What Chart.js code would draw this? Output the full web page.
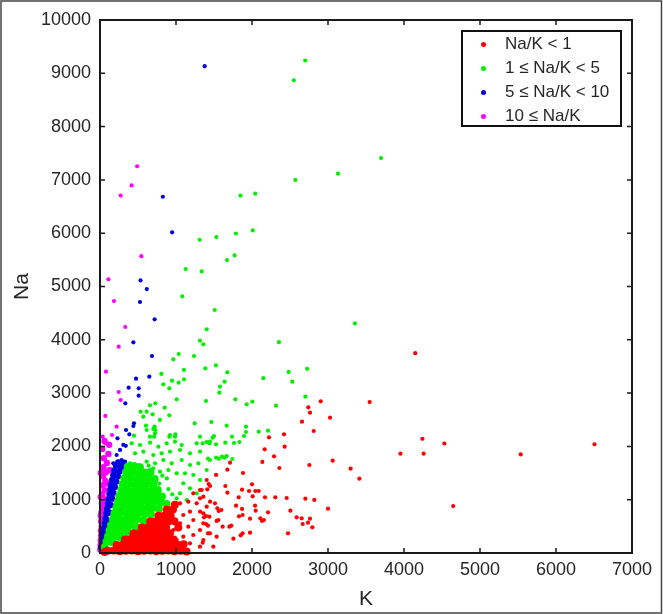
<!DOCTYPE html>
<html>
<head>
<meta charset="utf-8">
<script src="https://cdn.jsdelivr.net/npm/chart.js@4.4.1/dist/chart.umd.min.js"></script>
<style>
  html, body { margin: 0; padding: 0; background: #fff; }
  #wrap { position: relative; width: 663px; height: 614px; }
  #legend {
    position: absolute; left: 461px; top: 30px; width: 157px; height: 93px;
    border: 2px solid #111; background: #fff;
    font-family: "Liberation Sans", Arial, sans-serif; font-size: 17px; color: #262626;
  }
  .row { position: absolute; left: 0; height: 24px; line-height: 24px; white-space: nowrap; }
  .dot { position: absolute; left: 18px; top: 10px; width: 5px; height: 5px; border-radius: 50%; }
  .lbl { position: absolute; left: 42px; }
</style>
</head>
<body>
<div id="wrap">
  <canvas id="chart"></canvas>
  <div id="legend"></div>
</div>
<script>
// series labels and colours
const labels = ["Na/K < 1", "1 \u2264 Na/K < 5", "5 \u2264 Na/K < 10", "10 \u2264 Na/K"];
const colors = ["rgb(255,0,0)", "rgb(0,240,0)", "rgb(0,0,225)", "rgb(255,0,255)"];

// axis ticks
const xTicks = [0, 1000, 2000, 3000, 4000, 5000, 6000, 7000];
const yTicks = [0, 1000, 2000, 3000, 4000, 5000, 6000, 7000, 8000, 9000, 10000];

// [K, Na] pairs. "core" = the packed cluster near the origin
const redCore = [
  [60,20],[100,40],[180,45],[260,35],[340,40],[420,45],[500,35],[580,40],[660,45],[740,35],[820,40],[900,45],[980,35],[1060,40],[1140,30],
  [220,150],[300,155],[380,145],[460,150],[540,155],[620,145],[700,150],[780,155],[860,145],[940,150],[1020,155],[1100,165],
  [330,260],[410,265],[490,255],[570,260],[650,265],[730,255],[810,260],[890,265],[970,255],
  [440,370],[520,375],[600,365],[680,370],[760,375],[840,365],[920,370],
  [550,480],[630,485],[710,475],[790,480],[870,485],[1030,480],
  [660,590],[740,595],[820,585],[900,590],[980,595],
  [770,700],[850,705],[930,695],
  [880,810],[960,815],[985,905]
];
const redPts = [
  [4148,3749],[3548,2832],[4242,2142],[4531,2054],[6507,2040],[3953,1864],[4259,1864],[5536,1849],[4647,880],
  [2741,2733],[2763,2633],[2904,2846],[3027,2539],[2658,2464],[2812,2289],[2421,2227],[2224,2170],[2430,1995],
  [2167,1945],[2290,1814],[2136,1708],[2360,1595],[2755,1651],[3062,1733],[3298,1582],[3413,1395],
  [1711,1695],[1676,1564],[1527,1464],[1882,1501],[1404,1370],[1430,1295],[1448,1257],[1412,1195],[1649,1257],
  [1676,1132],[2000,1288],[1961,1163],[2044,1163],[2088,1163],[1869,1188],[2009,1063],[2171,1045],[2307,1045],
  [2456,1032],[2702,1020],[2820,995],[1825,1045],[1316,1026],[1338,1182],[1448,963],[1790,888],[1869,826],
  [2040,888],[2048,794],[2211,763],[2505,794],[2588,669],[2654,651],[2763,644],[3000,832],[1544,838],[1562,788],
  [1597,807],[1360,744],[1369,669],[1395,694],[1439,682],[1535,601],[1877,713],[1829,688],[1974,644],[2110,651],
  [2132,601],[2158,619],[2667,544],[2737,569],[2794,482],[1395,544],[1421,513],[1614,494],[1702,494],[1728,513],
  [1877,369],[1851,332],[1974,382],[2474,369],[1755,269],[1421,369],[1351,194],
  [1316,1182],[1360,1057],[1228,1119],[1162,963],[1053,932],[1272,932],[1404,869],[1513,932],[1316,775],
  [1184,775],[1096,713],[1557,619],[1228,619],[1360,556],[1053,556],[1162,494],[1316,431],[1447,369],
  [1535,306],[1228,338],[1096,306],[1360,244],[1009,244],[1184,181],[1316,119],[1491,119],[965,431],[899,619]
];

const greenCore = [
  [62,110],[85,210],[160,205],[105,310],[185,305],[265,295],
  [125,420],[205,415],[285,410],[365,395],
  [145,520],[225,525],[305,515],[385,520],[465,500],
  [170,630],[250,640],[330,620],[410,630],[490,640],[570,610],
  [190,740],[270,750],[350,730],[430,740],[510,750],[590,730],[670,720],
  [215,850],[295,860],[375,840],[455,850],[535,860],[615,840],[695,850],[775,825],
  [235,960],[315,970],[395,950],[475,960],[555,970],[635,950],[715,960],[795,950],[875,920],
  [255,1070],[335,1080],[415,1060],[495,1070],[575,1080],[655,1060],[735,1070],[815,1060],
  [280,1180],[360,1190],[440,1170],[520,1180],[600,1190],[680,1170],[760,1180],
  [300,1290],[380,1300],[460,1280],[540,1290],[620,1300],[700,1280],
  [320,1400],[400,1410],[480,1390],[560,1400],[640,1410],[720,1390],
  [345,1510],[425,1520],[505,1500],[585,1510],[665,1520],
  [365,1620],[445,1630],[525,1610]
];
const greenPts = [
  [2700,9240],[2550,8870],[3698,7410],[3132,7117],[2571,7000],[1849,6706],[2043,6742],[2010,6053],[1788,5994],
  [1310,5877],[1532,5928],[1771,5583],[1671,5495],[1127,5327],[1338,5282],[1083,4813],[3354,4307],[2354,3955],
  [2726,3456],[2482,3397],[2149,3280],[2530,3215],
  [1509,4559],[1404,4197],[1316,3984],[1360,3915],[1035,3734],[965,3634],[1237,3696],[1105,3434],[1386,3465],
  [1526,3521],[1675,3390],[807,3359],[947,3234],[1035,3196],[1105,3259],[833,3165],[912,3090],[1640,3215],
  [1579,3121],[1570,3008],[1009,2883],[1395,2852],[728,2808],[658,2771],[851,2727],[535,2652],[614,2652],
  [693,2602],[570,2558],[912,2583],[789,2496],[719,2370],[605,2389],[614,2308],[702,2327],[728,2308],
  [1246,2433],[1465,2458],[1667,2389],[1921,2370],[447,2202],[711,2183],[912,2183],[991,2227],[1500,2195],
  [1482,2164],[1895,2195],
  [1781,2883],[1930,2789],[2005,2839],[2316,2764],[2702,2933],[1921,2270],[2088,2277],[2211,2295],[1737,2183],
  [1834,2083],[1763,2064],[1404,2083],[1439,2058],[1527,2039],[1649,2070],[1351,2058],[1421,1770],[1527,1789],
  [1562,1770],[1605,1808],[1640,1789],[1667,1820],[1741,1764],
  [658,2183],[724,2245],[921,2214],[987,2183],[1316,2183],
  [417,2057],[526,2026],[658,2070],[768,1995],[877,2057],[987,2089],[1075,2026],[1272,2057],[1447,2089],
  [461,1870],[570,1901],[702,1839],[811,1870],[921,1901],[1053,1932],[1184,1870],[1316,1901],[1447,1745],
  [395,1682],[504,1651],[614,1713],[724,1682],[833,1745],[943,1682],[1075,1745],[1184,1651],[1294,1682],
  [1404,1557],[439,1526],[548,1495],[658,1557],[789,1526],[899,1557],[1009,1495],[1118,1495],[1228,1463],
  [1316,1370],[1096,1307],[1184,1213],[1272,1119],[1053,1119],[1140,994],[1009,1026],
  [900,1200],[950,1100],[880,1400],[820,1450],[780,1300],[640,1640],[700,1590]
];

const blueCore = [
  [15,110],[25,200],[35,290],[45,380],[55,470],[65,560],[75,650],[85,740],[95,830],[105,920],[115,1010],
  [125,1100],[135,1190],[145,1280],[160,1370],[175,1460],[190,1550],[210,1640],[240,1700],
  [80,480],[100,600],[120,760],[140,900],[160,1020],[175,1130],[195,1240],[215,1340],[235,1440],[255,1530],
  [275,1610],[300,1690]
];
const bluePts = [
  [1377,9134],[827,6684],[949,6016],[533,5114],[616,4952],[526,4709],[719,4384],[439,3953],[684,3696],
  [474,3271],[649,3309],[377,3102],[509,3090],[509,2952],[333,2808],[447,2433],[439,2383],[342,2308],
  [386,2227],[339,2010],[230,2152],[307,2027],[263,1933],[219,1839],[285,1745],[329,1714],[175,1683]
];

const magentaCore = [
  [5,60],[8,150],[10,240],[15,330],[12,420],[22,500],[15,590],[30,670],[20,760],[40,840],[25,930],[50,1010],
  [30,1100],[60,1180],[35,1270],[70,1350],[40,1440],[80,1520],[45,1610],[90,1690],[50,1780],[110,1860],
  [30,1950],[120,2030],[60,2100],[10,1500],[10,1050],[10,700],[60,700],[85,1000],[110,1300],[130,1560]
];
const magentaPts = [
  [489,7256],[416,6897],[272,6706],[544,5569],[111,5136],[184,4728],[333,4240],[246,3871],[79,3402],
  [246,3021],[272,2871],[70,2571],[219,2370],[158,2214],[35,2183],[66,2058],[123,1839],[22,1933]
];

function toXY(arr) {
  return arr.map(p => ({ x: p[0], y: p[1] }));
}

function series(i, core, loose, coreR) {
  return {
    label: labels[i],
    data: toXY(core.concat(loose)),
    backgroundColor: colors[i],
    borderWidth: 0,
    clip: false,
    pointRadius: c => (c.dataIndex < core.length ? coreR : 2.1)
  };
}

// inward ticks on all four sides plus the box, matlab style
const frame = {
  id: "frame",
  afterDraw(chart) {
    const { ctx, chartArea: a, scales } = chart;
    ctx.save();
    ctx.strokeStyle = "#1a1a1a";
    ctx.lineWidth = 1.5;
    ctx.beginPath();
    xTicks.forEach(v => {
      const p = scales.x.getPixelForValue(v);
      ctx.moveTo(p, a.bottom); ctx.lineTo(p, a.bottom - 5);
      ctx.moveTo(p, a.top); ctx.lineTo(p, a.top + 5);
    });
    yTicks.forEach(v => {
      const p = scales.y.getPixelForValue(v);
      ctx.moveTo(a.left, p); ctx.lineTo(a.left + 5, p);
      ctx.moveTo(a.right, p); ctx.lineTo(a.right - 5, p);
    });
    ctx.stroke();
    ctx.lineWidth = 2;
    ctx.strokeRect(a.left, a.top, a.right - a.left, a.bottom - a.top);
    ctx.lineWidth = 1.5;
    ctx.strokeStyle = "#444";
    ctx.strokeRect(1, 1, chart.width - 2.5, chart.height - 2);
    ctx.restore();
  }
};

Chart.defaults.font.family = "'Liberation Sans', Arial, sans-serif";
Chart.defaults.color = "#262626";

const chart = new Chart(document.getElementById("chart"), {
  type: "scatter",
  data: {
    datasets: [
      series(0, redCore, redPts, 4),
      series(1, greenCore, greenPts, 4),
      series(2, blueCore, bluePts, 3.2),
      series(3, magentaCore, magentaPts, 3.2)
    ]
  },
  options: {
    responsive: true,
    maintainAspectRatio: false,
    animation: false,
    events: [],
    layout: { padding: { top: 20, right: 31, left: 0, bottom: 0 } },
    plugins: { legend: { display: false }, tooltip: { enabled: false } },
    scales: {
      x: {
        min: 0, max: 7000,
        afterBuildTicks: s => { s.ticks = xTicks.map(v => ({ value: v })); },
        afterFit: s => { s.height = 61; },
        ticks: { font: { size: 18 }, padding: 6, maxRotation: 0, autoSkip: false, callback: v => String(v) },
        grid: { display: false, drawTicks: false },
        border: { display: false },
        title: { display: true, text: "K", font: { size: 21 }, padding: { top: 0, bottom: 2 } }
      },
      y: {
        min: 0, max: 10000,
        afterBuildTicks: s => { s.ticks = yTicks.map(v => ({ value: v })); },
        afterFit: s => { s.width = 100; },
        ticks: { font: { size: 18 }, padding: 9, autoSkip: false, callback: v => String(v) },
        grid: { display: false, drawTicks: false },
        border: { display: false },
        title: { display: true, text: "Na", font: { size: 21 }, padding: { top: 10, bottom: 0 } }
      }
    }
  },
  plugins: [frame]
});

// legend box built from the datasets
const legend = document.getElementById("legend");
chart.data.datasets.forEach((ds, i) => {
  const row = document.createElement("div");
  row.className = "row";
  row.style.top = (i * 24) + "px";
  row.innerHTML = `<span class="dot" style="background:${ds.backgroundColor}"></span><span class="lbl">${ds.label.replace("<", "&lt;")}</span>`;
  legend.appendChild(row);
});
</script>
</body>
</html>
